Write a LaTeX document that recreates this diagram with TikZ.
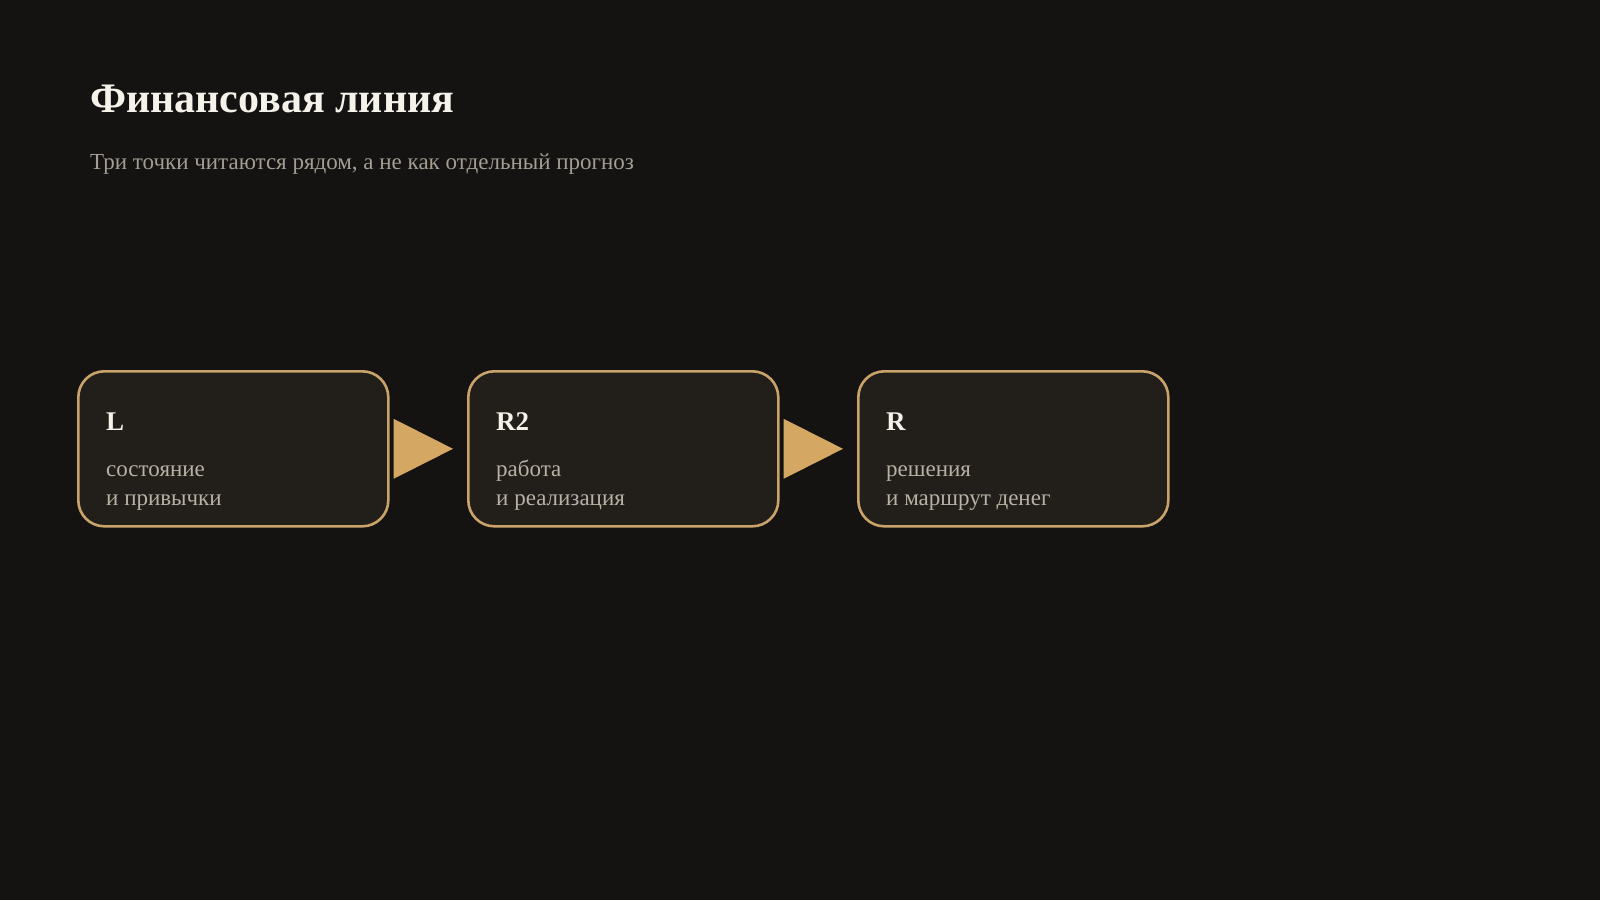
\documentclass[tikz,border=0pt]{standalone}
\usepackage{fontspec}
\setmainfont{Liberation Serif}
\usetikzlibrary{calc}
\definecolor{bgc}{HTML}{141311}
\definecolor{boxfill}{HTML}{221E19}
\definecolor{gold}{HTML}{C9A36A}
\definecolor{arrowc}{HTML}{D4A862}
\definecolor{titlec}{HTML}{F5F2EA}
\definecolor{subc}{HTML}{A39D94}
\definecolor{bodyc}{HTML}{B8B1A6}
\tikzset{
  stagebox/.style={draw=gold, line width=2.6pt, fill=boxfill, rounded corners=26pt,
    minimum width=310pt, minimum height=155pt, inner sep=0pt, anchor=north west},
  headc/.style={anchor=base west, inner sep=0pt, text=titlec, font=\fontsize{27}{30}\selectfont\bfseries},
  bodyt/.style={anchor=base west, inner sep=0pt, text=bodyc, font=\fontsize{23}{29}\selectfont},
  tri/.style={fill=arrowc}
}
\begin{document}
\begin{tikzpicture}[x=1pt,y=-1pt]
\fill[bgc] (0,0) rectangle (1600,900);
\useasboundingbox (0,0) rectangle (1600,900);
\node[anchor=base west, inner sep=0pt, text=titlec, font=\fontsize{42}{48}\selectfont\bfseries] (title) at (90,112) {Финансовая линия};
\node[anchor=base west, inner sep=0pt, text=subc, font=\fontsize{23}{28}\selectfont] (sub) at (90,169) {Три точки читаются рядом, а не как отдельный прогноз};
\node[stagebox] (b1) at (77,370) {};
\node[stagebox] (b2) at (467,370) {};
\node[stagebox] (b3) at (857,370) {};
\foreach \b/\h/\la/\lb in {b1/L/состояние/и привычки, b2/R2/работа/и реализация, b3/R/решения/и маршрут денег}{
  \node[headc] (\b h) at ($(\b.north west)+(29,60)$) {\h};
  \node[bodyt] (\b a) at ($(\b.north west)+(29,106)$) {\la};
  \node[bodyt] (\b b) at ($(\b.north west)+(29,135)$) {\lb};
}
\fill[tri] ($(b1.east)+(4,-30)$) -- ($(b1.east)+(4,30)$) -- ($(b2.west)+(-14,0)$) -- cycle;
\fill[tri] ($(b2.east)+(4,-30)$) -- ($(b2.east)+(4,30)$) -- ($(b3.west)+(-14,0)$) -- cycle;
\end{tikzpicture}
\end{document}
